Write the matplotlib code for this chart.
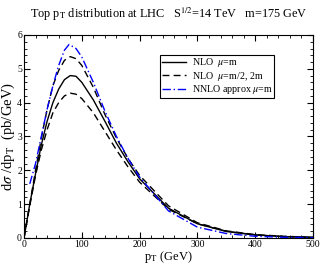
import matplotlib
matplotlib.use("Agg")
import matplotlib.pyplot as plt
from matplotlib.ticker import MultipleLocator

# values
pt = [0, 10, 20, 30, 40, 50, 60, 70, 80, 90, 100, 120, 140, 160, 180, 200, 250, 300, 350, 400, 450, 500]
nlo_m = [0, 1.0, 1.9, 2.75, 3.45, 4.0, 4.4, 4.68, 4.8, 4.78, 4.6, 4.08, 3.45, 2.8, 2.25, 1.75, 0.88, 0.42, 0.19, 0.09, 0.04, 0.02]
nlo_half = [0, 1.0, 2.0, 2.95, 3.8, 4.5, 4.95, 5.25, 5.36, 5.3, 5.1, 4.45, 3.65, 2.95, 2.35, 1.85, 0.95, 0.45, 0.21, 0.1, 0.05, 0.02]
nlo_two = [0, 0.95, 1.85, 2.6, 3.2, 3.7, 4.0, 4.2, 4.28, 4.25, 4.12, 3.7, 3.15, 2.6, 2.1, 1.65, 0.85, 0.42, 0.2, 0.09, 0.04, 0.02]
pt_nnlo = [10, 20, 30, 40, 50, 60, 70, 78, 90, 100, 120, 140, 160, 180, 200, 250, 300, 350, 400, 450, 500]
nnlo = [1.6, 2.2, 3.0, 3.8, 4.5, 5.1, 5.55, 5.72, 5.6, 5.35, 4.6, 3.75, 3.0, 2.35, 1.8, 0.8, 0.32, 0.13, 0.05, 0.02, 0.01]

plt.rcParams['font.family'] = 'Liberation Serif'
plt.rcParams['mathtext.fontset'] = 'stix'

fig = plt.figure(figsize=(3.22, 2.65), dpi=100)
ax = fig.add_axes([0.0745, 0.102, 0.8975, 0.766])

ax.plot(pt, nlo_m, color='black', lw=1.0, label=r'NLO  $\mu$=m')
ax.plot(pt, nlo_half, color='black', lw=1.0, ls=(0, (5, 3)), label=r'NLO  $\mu$=m/2, 2m')
ax.plot(pt, nlo_two, color='black', lw=1.0, ls=(0, (5, 3)))
ax.plot(pt_nnlo, nnlo, color='blue', lw=1.0, ls=(0, (6, 2, 1, 2)), label=r'NNLO approx $\mu$=m')

ax.set_xlim(0, 500)
ax.set_ylim(0, 6)
ax.xaxis.set_major_locator(MultipleLocator(100))
ax.xaxis.set_minor_locator(MultipleLocator(20))
ax.yaxis.set_major_locator(MultipleLocator(1))
ax.yaxis.set_minor_locator(MultipleLocator(0.2))
ax.tick_params(which='both', direction='in', top=True, right=True, labelsize=7, pad=1.5)
ax.tick_params(which='major', length=4.5, width=0.8)
ax.tick_params(which='minor', length=2.2, width=0.6)

ax.set_xlabel(r'p$_\mathrm{T}$ (GeV)', fontsize=9, labelpad=0)
ax.set_ylabel(r'd$\sigma$ /dp$_\mathrm{T}$  (pb/GeV)', fontsize=10.5, labelpad=0)
ax.set_title(r'Top p$_\mathrm{T}$ distribution at LHC   S$^{1/2}$=14 TeV   m=175 GeV', fontsize=8.8, pad=12)

leg = ax.legend(loc='upper right', bbox_to_anchor=(0.866, 0.902), fontsize=7.2, frameon=True,
                fancybox=False, edgecolor='black', framealpha=1, handlelength=2.4,
                borderpad=0.15, labelspacing=0.05, handletextpad=0.6, borderaxespad=0)
leg.get_frame().set_linewidth(0.8)

fig.savefig('out.png', dpi=100)
